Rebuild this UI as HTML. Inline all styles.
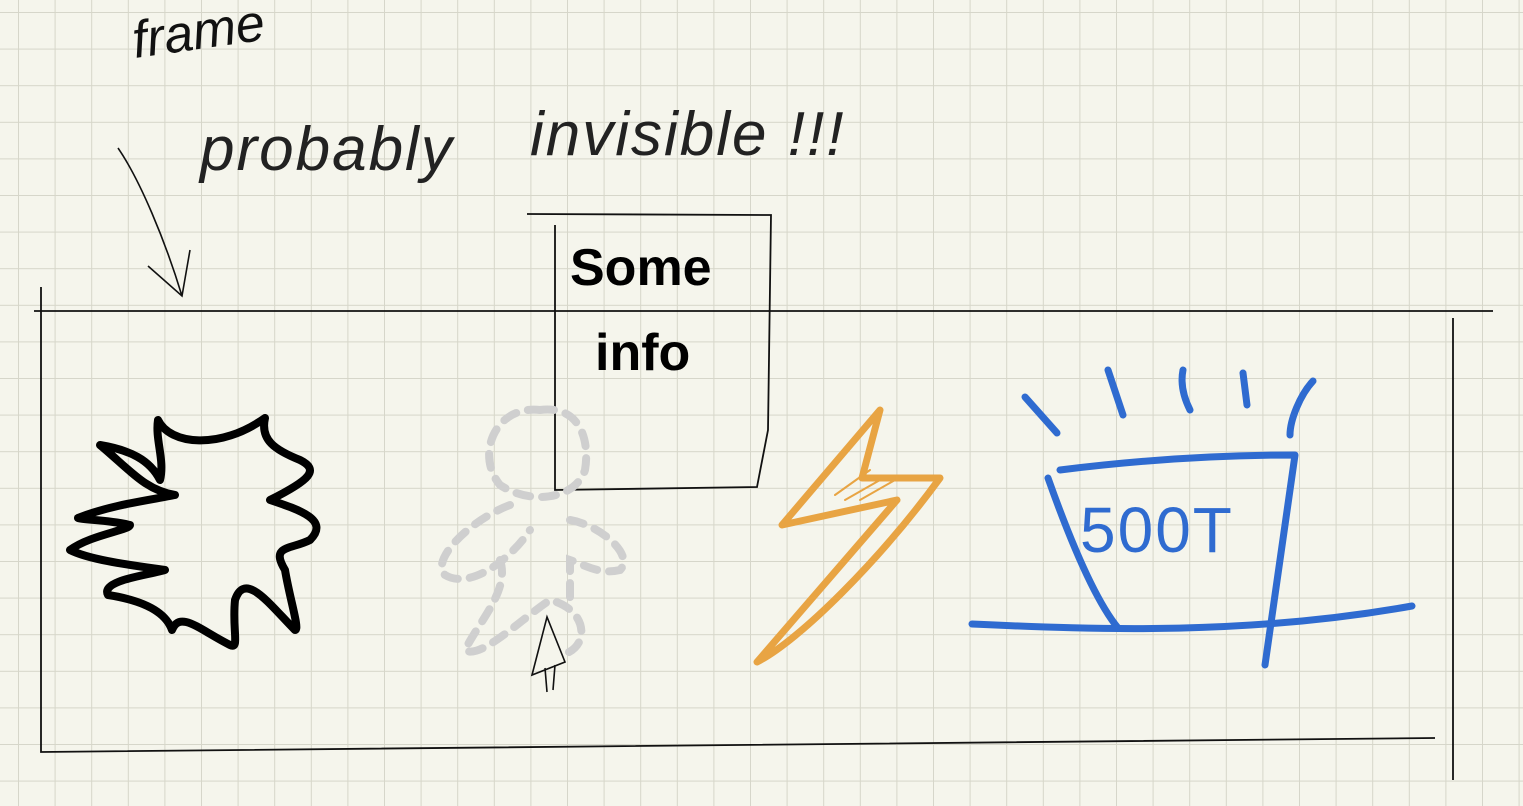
<!DOCTYPE html>
<html><head><meta charset="utf-8"><style>
html,body{margin:0;padding:0;background:#f5f5ec;}
svg{display:block}
text{font-family:"Liberation Sans",sans-serif}
</style></head><body>
<svg width="1523" height="806" viewBox="0 0 1523 806" xmlns="http://www.w3.org/2000/svg">
<defs>
<pattern id="grid" width="36.6" height="36.6" patternUnits="userSpaceOnUse" x="18" y="12">
<path d="M0 0H36.6M0 0V36.6" stroke="#d6d6c9" stroke-width="2" fill="none"/>
</pattern>
</defs>
<rect width="1523" height="806" fill="#f5f5ec"/>
<rect width="1523" height="806" fill="url(#grid)"/>

<g fill="none" stroke="#111" stroke-width="1.6">
<text x="135" y="58" font-size="52" font-style="italic" fill="#111" stroke="none" font-weight="300" transform="rotate(-8 135 58)">frame</text>
<text x="200" y="170" font-size="62" font-style="italic" fill="#222" stroke="none" letter-spacing="2">probably</text>
<text x="530" y="155" font-size="62" font-style="italic" fill="#222" stroke="none" letter-spacing="2">invisible !!!</text>
<path d="M118 148 C140 180 165 240 182 296 M148 266 L182 296 L190 250"/>
</g>

<g fill="none" stroke="#111" stroke-width="1.8">
<path d="M34 311 L1493 311"/>
<path d="M41 287 L41 752 L1435 738"/>
<path d="M1453 318 L1453 780"/>
</g>

<g fill="none" stroke="#111" stroke-width="1.8">
<path d="M527 214 L771 215 L768 430 L757 487 L555 490 L555 225"/>
<text x="570" y="285" font-size="52" font-weight="bold" fill="#000" stroke="none">Some</text>
<text x="595" y="370" font-size="52" font-weight="bold" fill="#000" stroke="none">info</text>
</g>

<path fill="none" stroke="#000" stroke-width="8" stroke-linejoin="round" stroke-linecap="round"
d="M158 420 C170 445 220 450 265 418 C260 440 275 450 300 460 C320 470 310 480 270 500 C300 510 330 520 310 540 C290 550 270 545 285 570 C290 600 300 630 295 630 C270 605 245 570 235 600 C232 630 240 650 230 645 C200 630 180 610 172 630 C165 610 140 600 108 595 C100 580 150 575 165 570 C130 565 90 560 70 550 C90 535 130 530 130 525 C110 520 85 520 78 518 C110 505 150 500 175 495 C145 490 130 470 100 445 C130 450 150 460 160 480 C165 460 155 440 158 420Z"/>

<g fill="none" stroke="#cfcfcf" stroke-width="8" stroke-dasharray="14 12" stroke-linecap="round">
<path d="M540 410 C580 405 590 440 585 470 C575 500 530 505 500 485 C475 455 495 405 540 410"/>
<path d="M510 505 C470 520 430 560 445 575 C470 590 510 560 530 530"/>
<path d="M570 520 C600 525 635 555 620 570 C600 575 585 565 570 560 L570 600"/>
<path d="M500 560 C510 590 480 620 465 650 C480 660 520 620 550 600 C590 610 590 650 560 655"/>
</g>
<path fill="none" stroke="#111" stroke-width="1.6" d="M532 675 L547 617 L565 662 Z M545 668 L547 692 M555 665 L553 690"/>

<g fill="none" stroke="#e8a443" stroke-width="7" stroke-linejoin="round" stroke-linecap="round">
<path d="M880 410 L782 525 L897 500 L757 662 C800 640 880 560 940 478 L862 478 Z"/>
<path d="M835 495 L870 470 M845 500 L880 480 M860 500 L895 480" stroke-width="2"/>
</g>

<g fill="none" stroke="#2f6bd0" stroke-width="7" stroke-linecap="round" stroke-linejoin="round">
<path d="M1025 397 L1057 433 M1108 370 L1123 415 M1183 370 C1180 385 1185 400 1190 410 M1243 373 L1247 405 M1313 381 C1300 395 1290 420 1290 435"/>
<path d="M1060 470 C1140 460 1220 455 1295 455 L1265 665"/>
<path d="M1048 478 C1070 540 1095 600 1118 628"/>
<path d="M972 624 C1100 630 1250 635 1412 606"/>
<text x="1080" y="552" font-size="64" fill="#2f6bd0" stroke="none" letter-spacing="2">500T</text>
</g>
</svg>
</body></html>
